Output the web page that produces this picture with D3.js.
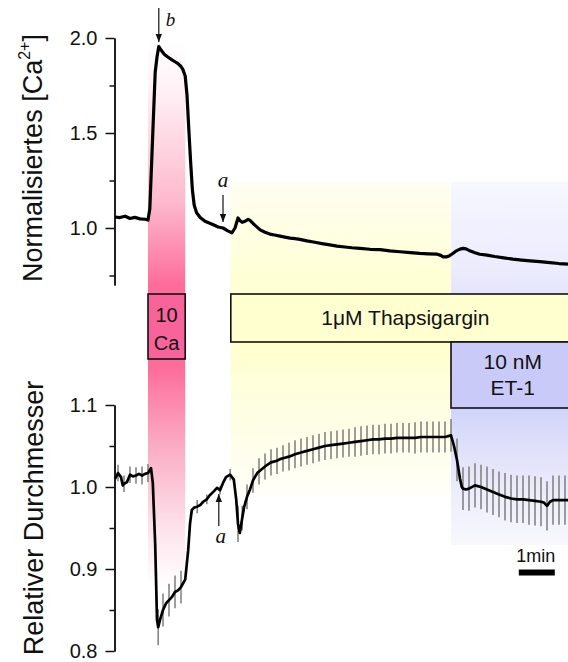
<!DOCTYPE html>
<html>
<head>
<meta charset="utf-8">
<script src="https://cdn.jsdelivr.net/npm/d3@7/dist/d3.min.js"></script>
<style>
  html, body { margin: 0; padding: 0; background: #fff; }
  svg { display: block; }
  text { font-family: "Liberation Sans", Arial, sans-serif; fill: #111; }
  .ital { font-family: "Liberation Serif", "Times New Roman", serif; font-style: italic; }
</style>
</head>
<body>
<svg id="chart" width="568" height="662"></svg>
<script>
// ---- time base (seconds from start of recording) ----
const timeEnd = 755;

// ---- normalised [Ca2+] trace ----
const caTime = [0, 8, 17, 25, 33, 42, 50, 55, 58, 63, 67, 70, 73, 77, 82, 88, 95, 100, 105, 110, 113,
  117, 120, 123, 126, 129, 132, 136, 142, 150, 162, 172, 180, 188, 195, 200, 205, 208, 212, 217, 222,
  225, 233, 242, 250, 258, 266, 275, 283, 292, 300, 308, 320, 333, 345, 358, 370, 383, 395, 408, 425,
  442, 458, 475, 492, 508, 522, 537, 543, 547, 552, 557, 563, 568, 575, 580, 585, 590, 600, 608, 620,
  633, 648, 663, 678, 692, 708, 725, 740, 755];
const caValue = [1.058, 1.055, 1.062, 1.050, 1.056, 1.048, 1.046, 1.042, 1.10, 1.50, 1.82, 1.90, 1.955, 1.935, 1.915, 1.90, 1.885, 1.875, 1.865, 1.85, 1.835,
  1.80, 1.70, 1.52, 1.35, 1.20, 1.12, 1.08, 1.055, 1.035, 1.02, 1.005, 1.0, 0.985, 0.975, 1.0, 1.053, 1.04, 1.03, 1.036, 1.045,
  1.04, 1.015, 0.99, 0.978, 0.968, 0.963, 0.957, 0.952, 0.947, 0.944, 0.940, 0.932, 0.925, 0.918, 0.911, 0.905, 0.900, 0.896, 0.893, 0.888,
  0.886, 0.880, 0.875, 0.870, 0.866, 0.864, 0.862, 0.856, 0.848, 0.848, 0.853, 0.866, 0.878, 0.889, 0.893, 0.890, 0.882, 0.870, 0.862, 0.857,
  0.850, 0.843, 0.836, 0.831, 0.827, 0.823, 0.818, 0.813, 0.810];

// ---- relative diameter trace (mean, with SEM where plotted) ----
const diamTime = [0, 5, 10, 13, 15, 20, 25, 30, 35, 40, 45, 50, 55, 60, 63, 67, 70, 72, 75, 80, 85, 90, 95, 100, 105, 110,
  117, 122, 125, 128, 132, 137, 142, 147, 153, 158, 165, 170, 175, 180, 185, 192, 198, 202, 205, 208, 212, 215, 220, 225,
  230, 237, 240, 245, 250, 258, 260, 270, 275, 280, 290, 300, 310, 320, 330, 340, 350, 360, 370, 380, 390, 400, 410, 420,
  430, 440, 450, 460, 470, 480, 490, 500, 510, 520, 530, 540, 550, 560, 565, 570, 575, 578, 580, 585, 590, 600, 610, 620,
  630, 640, 650, 660, 670, 680, 690, 700, 710, 715, 720, 725, 730, 740, 750, 755];
const diamValue = [1.010, 1.017, 1.012, 1.002, 1.004, 1.006, 1.015, 1.013, 1.014, 1.016, 1.014, 1.016, 1.017, 1.023, 1.005, 0.930, 0.838, 0.829, 0.838, 0.850, 0.858, 0.862, 0.866, 0.872, 0.874, 0.878,
  0.887, 0.923, 0.955, 0.972, 0.975, 0.976, 0.978, 0.982, 0.985, 0.990, 0.995, 0.999, 0.996, 1.005, 1.012, 1.015, 1.009, 0.985, 0.955, 0.944, 0.962, 0.975, 0.988, 0.997,
  1.008, 1.017, 1.019, 1.022, 1.025, 1.029, 1.030, 1.032, 1.034, 1.035, 1.037, 1.040, 1.042, 1.044, 1.046, 1.048, 1.050, 1.051, 1.052, 1.053, 1.054, 1.055, 1.056, 1.057,
  1.058, 1.058, 1.059, 1.059, 1.060, 1.060, 1.060, 1.060, 1.061, 1.061, 1.061, 1.061, 1.061, 1.063, 1.050, 1.033, 1.010, 1.000, 0.998, 0.997, 0.998, 1.002, 1.000, 0.997,
  0.994, 0.991, 0.988, 0.986, 0.985, 0.985, 0.984, 0.983, 0.982, 0.981, 0.977, 0.982, 0.984, 0.984, 0.984, 0.984];
const diamSEM = [null, 0.010, null, null, 0.010, null, 0.010, null, 0.010, null, 0.011, null, 0.011, null, null, null, null, 0.022, null, 0.020, null, 0.020, null, 0.020, null, 0.020,
  null, null, null, null, null, 0.008, null, null, 0.006, null, null, null, 0.005, null, null, 0.007, null, null, 0.022, null, 0.015, null, 0.015, null,
  0.015, null, 0.016, null, 0.016, null, 0.016, 0.016, null, 0.016, 0.017, 0.017, 0.017, 0.017, 0.017, 0.017, 0.017, 0.017, 0.017, 0.017, 0.017, 0.018, 0.018, 0.018,
  0.018, 0.018, 0.018, 0.018, 0.018, 0.018, 0.018, 0.019, 0.019, 0.019, 0.019, 0.019, 0.019, 0.020, null, 0.026, null, null, 0.026, null, 0.027, 0.027, 0.027, 0.028,
  0.028, 0.028, 0.029, 0.029, 0.029, 0.029, 0.030, 0.030, 0.030, null, 0.030, null, 0.030, 0.030, 0.030, null];

// ---- axis ticks ----
const caTicks = [1.0, 1.5, 2.0];
const caMinorTicks = [0.75, 1.25, 1.75];
const diamTicks = [0.8, 0.9, 1.0, 1.1];
const diamMinorTicks = [0.85, 0.95, 1.05];

// ---- treatment periods (s) ----
const caPeriod = [55, 117];
const thapsPeriod = [193, timeEnd];
const etPeriod = [560, timeEnd];

// ---- event markers (s) ----
const markB = 73;
const markATop = 180;
const markABottom = 173;
const scaleBarSec = 60;

const svg = d3.select("#chart");
const x = d3.scaleLinear().domain([0, timeEnd]).range([115, 568]);
const yCa = d3.scaleLinear().domain([0.7, 2.0]).range([285, 38]);
const yD = d3.scaleLinear().domain([0.8, 1.1]).range([651, 405]);

// ---- gradients for the treatment bands ----
const defs = svg.append("defs");
function vGrad(id, y1, y2, stops) {
  const g = defs.append("linearGradient").attr("id", id)
    .attr("gradientUnits", "userSpaceOnUse")
    .attr("x1", 0).attr("x2", 0).attr("y1", y1).attr("y2", y2);
  stops.forEach(s => g.append("stop").attr("offset", s[0]).attr("stop-color", s[1]));
}
vGrad("gPink", 40, 585, [[0, "#ffffff"], [0.08, "#fff4f8"], [0.3, "#fdb8cd"], [0.45, "#fd6c9b"], [0.6, "#fd6c9b"], [0.75, "#fbaec6"], [0.9, "#fde4ec"], [1, "#ffffff"]]);
vGrad("gYellow", 182, 495, [[0, "#fefef2"], [0.3, "#ffffd6"], [0.5, "#ffffcc"], [0.7, "#fefee0"], [1, "#fffff8"]]);
vGrad("gPurple", 182, 545, [[0, "#f7f7ff"], [0.25, "#ebebfd"], [0.45, "#d2d2fa"], [0.6, "#cbd1fa"], [0.72, "#dedff9"], [0.88, "#efeffc"], [1, "#f8f8fd"]]);

svg.append("rect").attr("x", x(caPeriod[0])).attr("width", x(caPeriod[1]) - x(caPeriod[0]))
  .attr("y", 40).attr("height", 545).attr("fill", "url(#gPink)");
svg.append("rect").attr("x", x(thapsPeriod[0])).attr("width", x(etPeriod[0]) - x(thapsPeriod[0]))
  .attr("y", 182).attr("height", 313).attr("fill", "url(#gYellow)");
svg.append("rect").attr("x", x(etPeriod[0])).attr("width", x(etPeriod[1]) - x(etPeriod[0]) + 5)
  .attr("y", 182).attr("height", 363).attr("fill", "url(#gPurple)");

// ---- treatment boxes ----
function box(x0, x1, y0, y1, fill) {
  svg.append("rect").attr("x", x0).attr("y", y0).attr("width", x1 - x0).attr("height", y1 - y0)
    .attr("fill", fill).attr("stroke", "#111").attr("stroke-width", 1.6);
}
box(x(caPeriod[0]), x(caPeriod[1]), 294, 359, "#f8639a");
box(x(thapsPeriod[0]), x(thapsPeriod[1]) + 20, 294, 342, "#ffffcf");
box(x(etPeriod[0]), x(etPeriod[1]) + 20, 342, 408, "#cacaf8");

const cx = (x(caPeriod[0]) + x(caPeriod[1])) / 2;
svg.append("text").attr("x", cx).attr("y", 322).attr("text-anchor", "middle").attr("font-size", 20).text("10");
svg.append("text").attr("x", cx).attr("y", 350).attr("text-anchor", "middle").attr("font-size", 20).text("Ca");
svg.append("text").attr("x", x(484)).attr("y", 325).attr("text-anchor", "middle").attr("font-size", 21).text("1\u03bcM Thapsigargin");
svg.append("text").attr("x", x(663)).attr("y", 369).attr("text-anchor", "middle").attr("font-size", 21).text("10 nM");
svg.append("text").attr("x", x(663)).attr("y", 395).attr("text-anchor", "middle").attr("font-size", 21).text("ET-1");

// ---- axes ----
function drawAxis(scale, major, minor) {
  const gMinor = svg.append("g").attr("transform", "translate(114.5,0)")
    .call(d3.axisLeft(scale).tickValues(minor).tickSize(5).tickSizeOuter(0).tickFormat(""));
  const g = svg.append("g").attr("transform", "translate(114.5,0)")
    .call(d3.axisLeft(scale).tickValues(major).tickSize(9).tickPadding(8).tickSizeOuter(0).tickFormat(d3.format(".1f")));
  [g, gMinor].forEach(a => {
    a.selectAll("path, line").attr("stroke", "#111").attr("stroke-width", 1.5);
  });
  g.selectAll("text").attr("font-size", 20).attr("font-family", "Liberation Sans, Arial, sans-serif").attr("fill", "#222");
}
drawAxis(yCa, caTicks, caMinorTicks);
drawAxis(yD, diamTicks, diamMinorTicks);

// ---- axis titles ----
const t1 = svg.append("text").attr("transform", "translate(42,158) rotate(-90)")
  .attr("text-anchor", "middle").attr("font-size", 27);
t1.append("tspan").text("Normalisiertes [Ca");
t1.append("tspan").attr("font-size", 16).attr("dy", -12).text("2+");
t1.append("tspan").attr("dy", 12).text("]");
svg.append("text").attr("transform", "translate(43,518) rotate(-90)")
  .attr("text-anchor", "middle").attr("font-size", 27).text("Relativer Durchmesser");

// ---- diameter error bars ----
const diamData = diamTime.map((t, i) => ({ t, v: diamValue[i], e: diamSEM[i] }));
svg.append("g").selectAll("line").data(diamData.filter(d => d.e !== null)).join("line")
  .attr("x1", d => x(d.t)).attr("x2", d => x(d.t))
  .attr("y1", d => yD(d.v - d.e)).attr("y2", d => yD(d.v + d.e))
  .attr("stroke", "#858585").attr("stroke-width", 1.6);

// ---- traces ----
const caData = caTime.map((t, i) => ({ t, v: caValue[i] }));
svg.append("path").datum(caData)
  .attr("d", d3.line().x(d => x(d.t)).y(d => yCa(d.v)))
  .attr("fill", "none").attr("stroke", "#000").attr("stroke-width", 3.2).attr("stroke-linejoin", "round");
svg.append("path").datum(diamData)
  .attr("d", d3.line().x(d => x(d.t)).y(d => yD(d.v)))
  .attr("fill", "none").attr("stroke", "#000").attr("stroke-width", 2.7).attr("stroke-linejoin", "round");

// ---- event arrows ----
defs.append("marker").attr("id", "head").attr("viewBox", "0 0 10 10").attr("refX", 10).attr("refY", 5)
  .attr("markerWidth", 7).attr("markerHeight", 7).attr("orient", "auto-start-reverse")
  .append("path").attr("d", "M0,1 L10,5 L0,9 Z").attr("fill", "#111");
function arrow(xp, yFrom, yTo) {
  svg.append("line").attr("x1", xp).attr("x2", xp).attr("y1", yFrom).attr("y2", yTo)
    .attr("stroke", "#111").attr("stroke-width", 1.2).attr("marker-end", "url(#head)");
}
arrow(x(markB), 8, 42);
svg.append("text").attr("class", "ital").attr("x", x(markB) + 7).attr("y", 26).attr("font-size", 19).text("b");
arrow(x(markATop), 195, 222);
svg.append("text").attr("class", "ital").attr("x", x(markATop)).attr("y", 187).attr("text-anchor", "middle").attr("font-size", 21).text("a");
arrow(x(markABottom), 526, 494);
svg.append("text").attr("class", "ital").attr("x", x(markABottom) + 2).attr("y", 543).attr("text-anchor", "middle").attr("font-size", 21).text("a");

// ---- time scale bar ----
const sb0 = x(673), sb1 = x(673 + scaleBarSec);
svg.append("line").attr("x1", sb0).attr("x2", sb1).attr("y1", 572.5).attr("y2", 572.5)
  .attr("stroke", "#000").attr("stroke-width", 6);
svg.append("text").attr("x", (sb0 + sb1) / 2 - 1).attr("y", 562).attr("text-anchor", "middle").attr("font-size", 18).text("1min");
</script>
</body>
</html>
